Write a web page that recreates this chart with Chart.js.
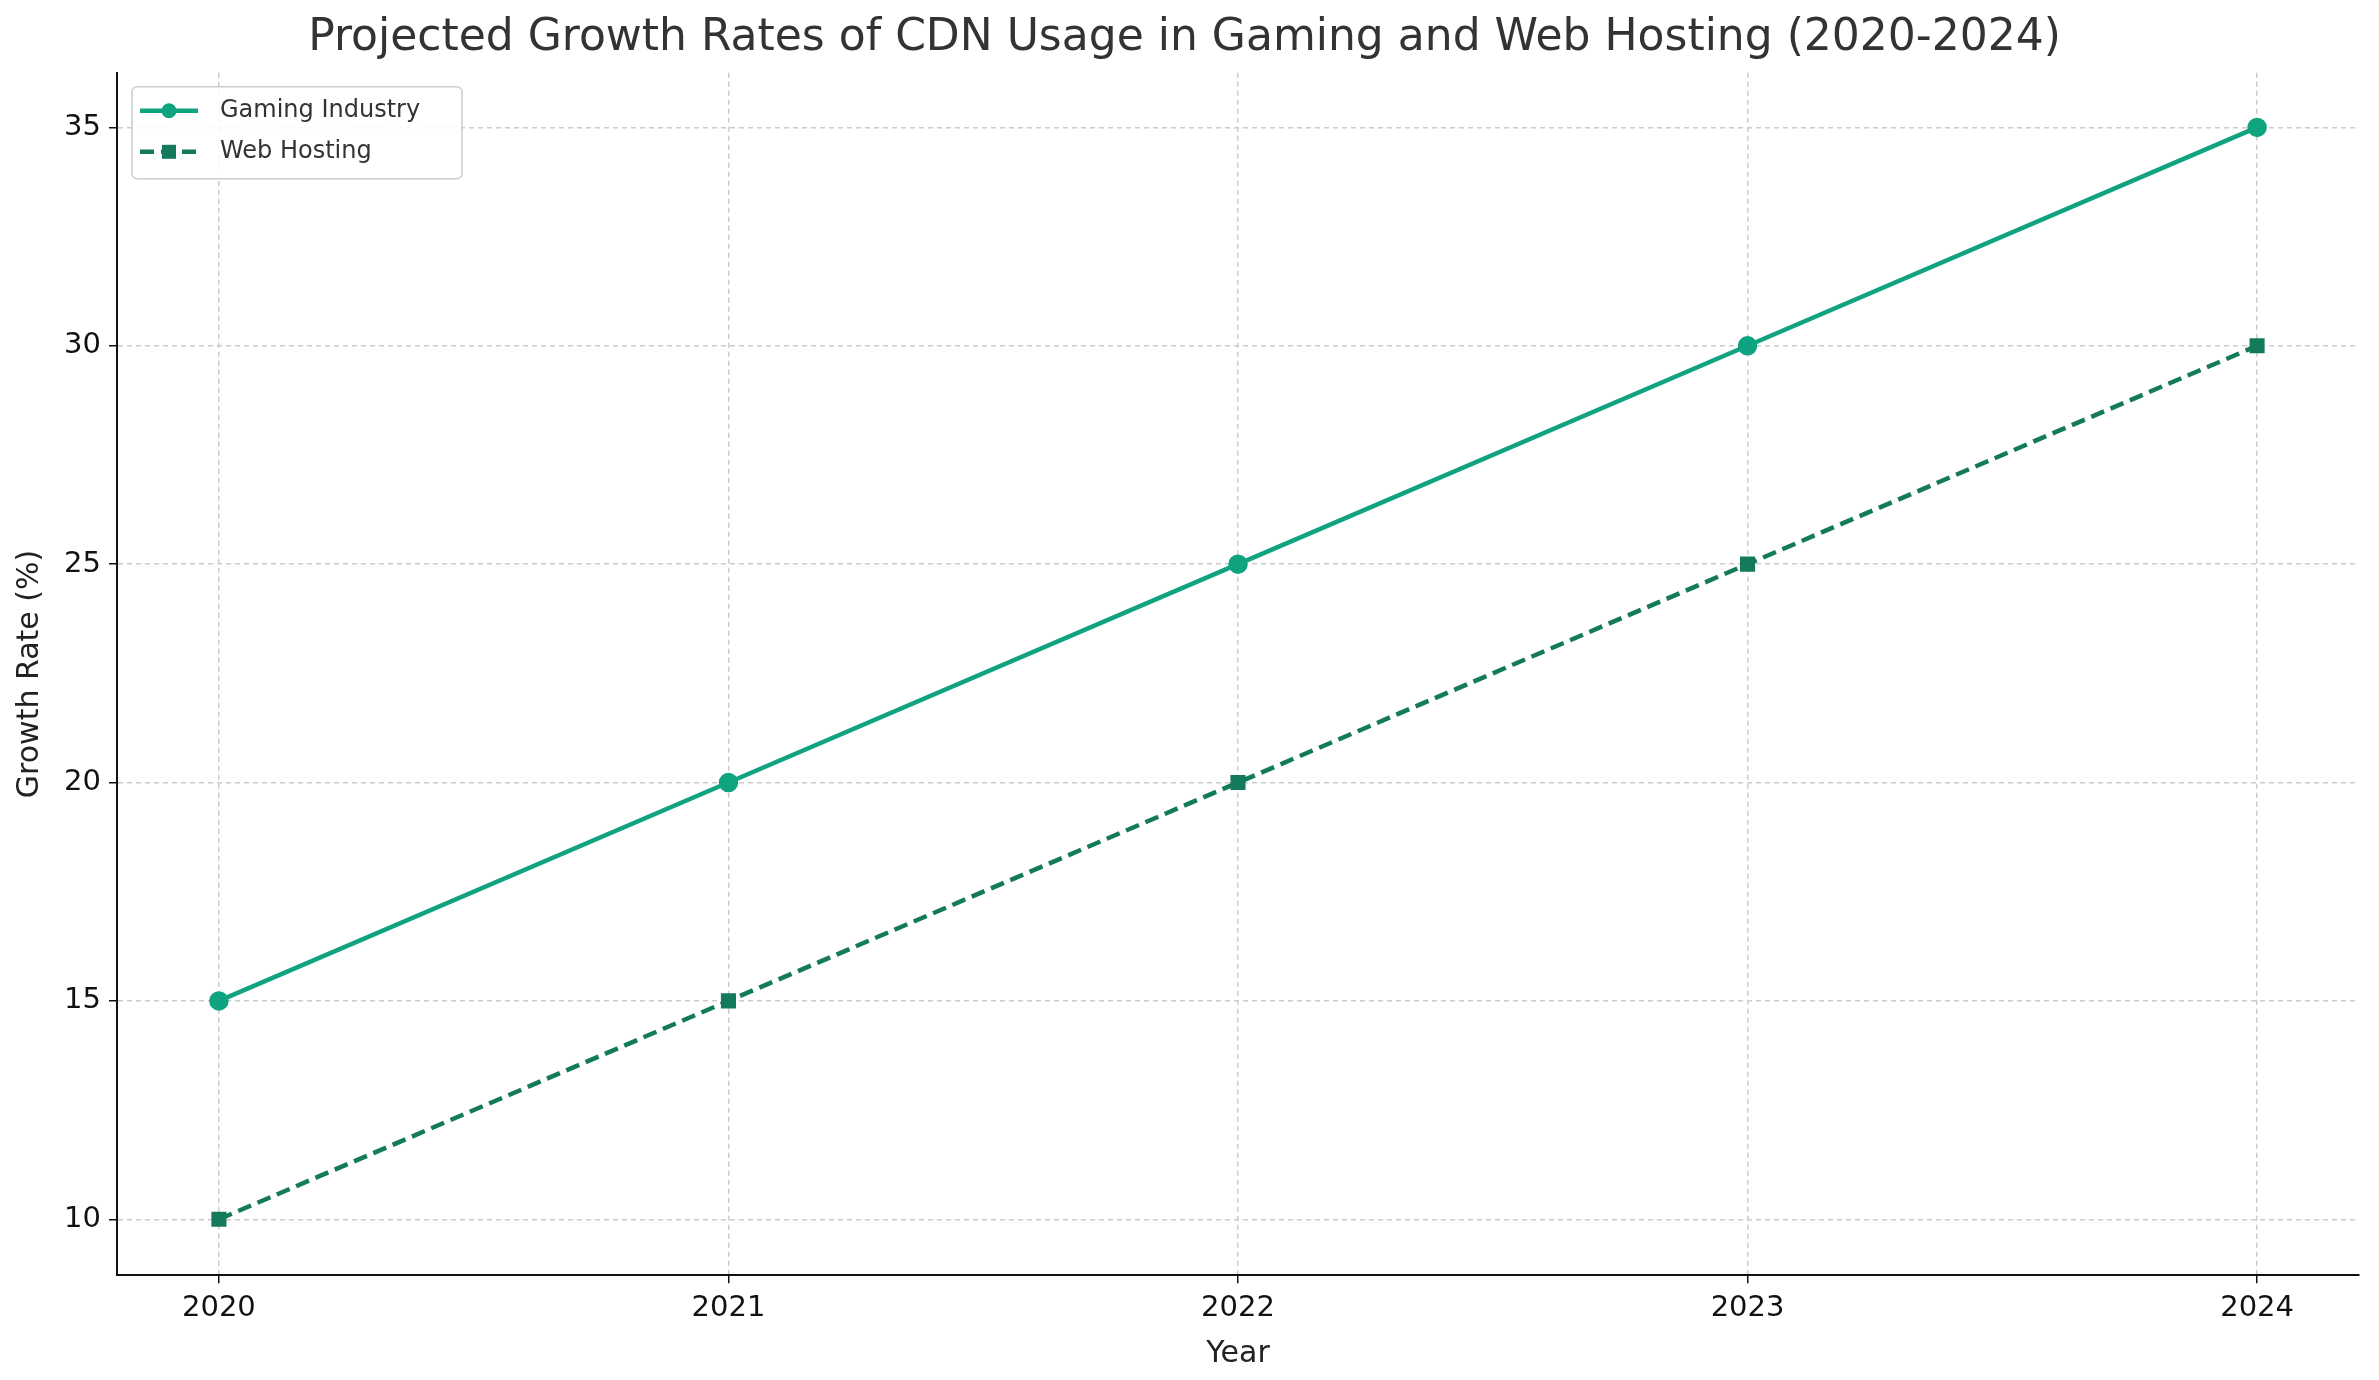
<!DOCTYPE html>
<html><head><meta charset="utf-8">
<script src="https://cdn.jsdelivr.net/npm/chart.js@4"></script>
<style>html,body{margin:0;padding:0;background:#fff}#w{width:2379px;height:1380px}</style>
</head><body><div id="w"><canvas id="c"></canvas></div>
<script>
const years = [2020, 2021, 2022, 2023, 2024];
const gaming = [15, 20, 25, 30, 35];
const webHosting = [10, 15, 20, 25, 30];
const yTicks = [10, 15, 20, 25, 30, 35];
const font = "'DejaVu Sans', sans-serif";

const customLegend = {
  id: 'customLegend',
  afterDraw(chart) {
    const ctx = chart.ctx, a = chart.chartArea;
    const x0 = a.left + 15, y0 = a.top + 14;
    ctx.save();
    ctx.fillStyle = 'rgba(255,255,255,0.85)'; ctx.strokeStyle = '#cccccc'; ctx.lineWidth = 1.5;
    ctx.beginPath(); ctx.roundRect(x0, y0, 330, 92, 5); ctx.fill(); ctx.stroke();
    ctx.font = '24px ' + font; ctx.textBaseline = 'middle'; ctx.fillStyle = '#333';
    chart.data.datasets.forEach((ds, i) => {
      const y = y0 + 24 + i * 41;
      ctx.strokeStyle = ds.borderColor; ctx.lineWidth = 4.5;
      ctx.setLineDash(ds.borderDash || []);
      ctx.beginPath(); ctx.moveTo(x0 + 8, y); ctx.lineTo(x0 + 66, y); ctx.stroke();
      ctx.setLineDash([]);
      ctx.fillStyle = ds.backgroundColor;
      if (ds.pointStyle === 'rect') ctx.fillRect(x0 + 30, y - 7, 14, 14);
      else { ctx.beginPath(); ctx.arc(x0 + 37, y, 7.5, 0, Math.PI * 2); ctx.fill(); }
      ctx.fillStyle = '#333'; ctx.fillText(ds.label, x0 + 88, y);
    });
    ctx.restore();
  }
};

new Chart(document.getElementById('c'), {
  type: 'line',
  data: { datasets: [
    { label: 'Gaming Industry', data: years.map((y,i)=>({x:y,y:gaming[i]})), borderColor: '#10a37f', backgroundColor: '#10a37f',
      borderWidth: 4.5, pointStyle: 'circle', pointRadius: 7.5, pointHoverRadius: 7.5 },
    { label: 'Web Hosting', data: years.map((y,i)=>({x:y,y:webHosting[i]})), borderColor: '#147a5c', backgroundColor: '#147a5c',
      borderWidth: 4.5, borderDash: [14,7], pointStyle: 'rect', pointRadius: 7.5, pointHoverRadius: 7.5 }
  ]},
  options: {
    responsive: true, maintainAspectRatio: false, animation: false,
    layout: { padding: { left: 10, right: 20, top: 0, bottom: 6 } },
    plugins: {
      title: { display: true, text: 'Projected Growth Rates of CDN Usage in Gaming and Web Hosting (2020-2024)',
        color: '#333', font: { family: font, size: 44, weight: 'normal' }, padding: { top: 12, bottom: 8 } },
      legend: { display: false },
      tooltip: { enabled: false }
    },
    scales: {
      x: { type: 'linear', min: 2019.8, max: 2024.2,
        afterBuildTicks: s => { s.ticks = years.map(v => ({ value: v })); },
        ticks: { font: { family: font, size: 29 }, color: '#111', callback: v => String(v), padding: 8 },
        title: { display: true, text: 'Year', font: { family: font, size: 30 }, color: '#222', padding: 2 },
        grid: { color: '#cccccc', lineWidth: 1.5, tickColor: '#111', tickLength: 8 },
        border: { display: true, color: '#111', width: 2, dash: [5,4] }
      },
      y: { min: 8.72, max: 36.25,
        afterBuildTicks: s => { s.ticks = yTicks.map(v => ({ value: v })); },
        afterFit: s => { s.width = 107; },
        ticks: { font: { family: font, size: 29 }, color: '#111', padding: 8 },
        title: { display: true, text: 'Growth Rate (%)', font: { family: font, size: 30 }, color: '#222', padding: 2 },
        grid: { color: '#cccccc', lineWidth: 1.5, tickColor: '#111', tickLength: 8 },
        border: { display: true, color: '#111', width: 2, dash: [5,4] }
      }
    }
  },
  plugins: [customLegend]
});
</script></body></html>
